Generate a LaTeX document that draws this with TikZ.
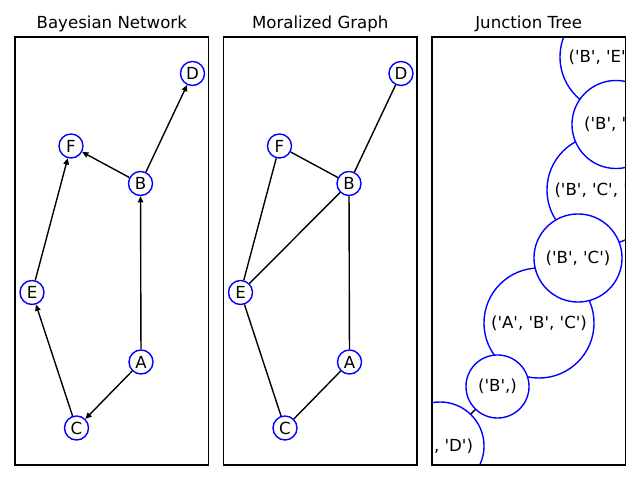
\documentclass[tikz,border=0pt]{standalone}
\usepackage{fontspec}
\setmainfont{DejaVu Sans}[Ligatures=TeXOff]
\usetikzlibrary{arrows.meta}
\begin{document}
\begin{tikzpicture}[x=0.01in,y=-0.01in,
  font=\fontsize{12}{14}\selectfont,
  frame/.style={draw=black, line width=0.8pt},
  vtx/.style={circle, draw=blue, fill=white, line width=1pt, minimum size=0.24in, inner sep=0pt},
  arr/.style={draw=black, line width=1pt, -{Triangle[length=4.5pt, width=4pt]}},
  edg/.style={draw=black, line width=1pt},
  jtbig/.style={circle, draw=blue, fill=white, line width=1pt, minimum size=1.10in, inner sep=0pt},
  jtmid/.style={circle, draw=blue, fill=white, line width=1pt, minimum size=0.88in, inner sep=0pt},
  jtsmall/.style={circle, draw=blue, fill=white, line width=1pt, minimum size=0.63in, inner sep=0pt},
  ttl/.style={anchor=base, inner sep=0pt}
]
\useasboundingbox (0,0) rectangle (640,480);

% titles
\node[ttl] (t1) at (111.75,28.5) {Bayesian Network};
\node[ttl] (t2) at (320.25,28.5) {Moralized Graph};
\node[ttl] (t3) at (528.75,28.5) {Junction Tree};

% ---------- Bayesian network ----------
\node[vtx] (D) at (192.5,73.5) {D};
\node[vtx] (F) at (71,146) {F};
\node[vtx] (B) at (140.5,183.5) {B};
\node[vtx] (E) at (32,292.5) {E};
\node[vtx] (A) at (141,362) {A};
\node[vtx] (C) at (76.5,428) {C};
\draw[arr] (B) -- (D);
\draw[arr] (B) -- (F);
\draw[arr] (A) -- (B);
\draw[arr] (A) -- (C);
\draw[arr] (C) -- (E);
\draw[arr] (E) -- (F);
\draw[frame] (15,37) rectangle (208.5,465);

% ---------- Moralized graph ----------
\node[vtx] (D2) at (401,73.5) {D};
\node[vtx] (F2) at (279.5,146) {F};
\node[vtx] (B2) at (349,183.5) {B};
\node[vtx] (E2) at (240.5,292.5) {E};
\node[vtx] (A2) at (349.5,362) {A};
\node[vtx] (C2) at (285,428) {C};
\draw[edg] (B2) -- (D2);
\draw[edg] (B2) -- (F2);
\draw[edg] (F2) -- (E2);
\draw[edg] (B2) -- (E2);
\draw[edg] (B2) -- (A2);
\draw[edg] (A2) -- (C2);
\draw[edg] (C2) -- (E2);
\draw[frame] (223.5,37) rectangle (417,465);

% ---------- Junction tree ----------
\begin{scope}
\clip (432,37) rectangle (625.5,465);
\coordinate (p1) at (615,57);
\coordinate (p2) at (616,124.5);
\coordinate (p3) at (602,190);
\coordinate (p4) at (578,258);
\coordinate (p5) at (539,323);
\coordinate (p6) at (497.5,386.5);
\coordinate (p7) at (440,446);
\draw[edg] (p1) -- (p2) -- (p3) -- (p4) -- (p5) -- (p6) -- (p7);
\node[jtbig] (BEF) at (p1) {('B', 'E', 'F')};
\node[jtbig] (BCE) at (p3) {('B', 'C', 'E')};
\node[jtbig] (ABC) at (p5) {('A', 'B', 'C')};
\node[jtmid] (BD) at (p7) {('B', 'D')};
\node[jtmid] (BE) at (p2) {('B', 'E')};
\node[jtmid] (BC) at (p4) {('B', 'C')};
\node[jtsmall] (Bs) at (p6) {('B',)};
\end{scope}
\draw[frame] (432,37) rectangle (625.5,465);
\end{tikzpicture}
\end{document}
